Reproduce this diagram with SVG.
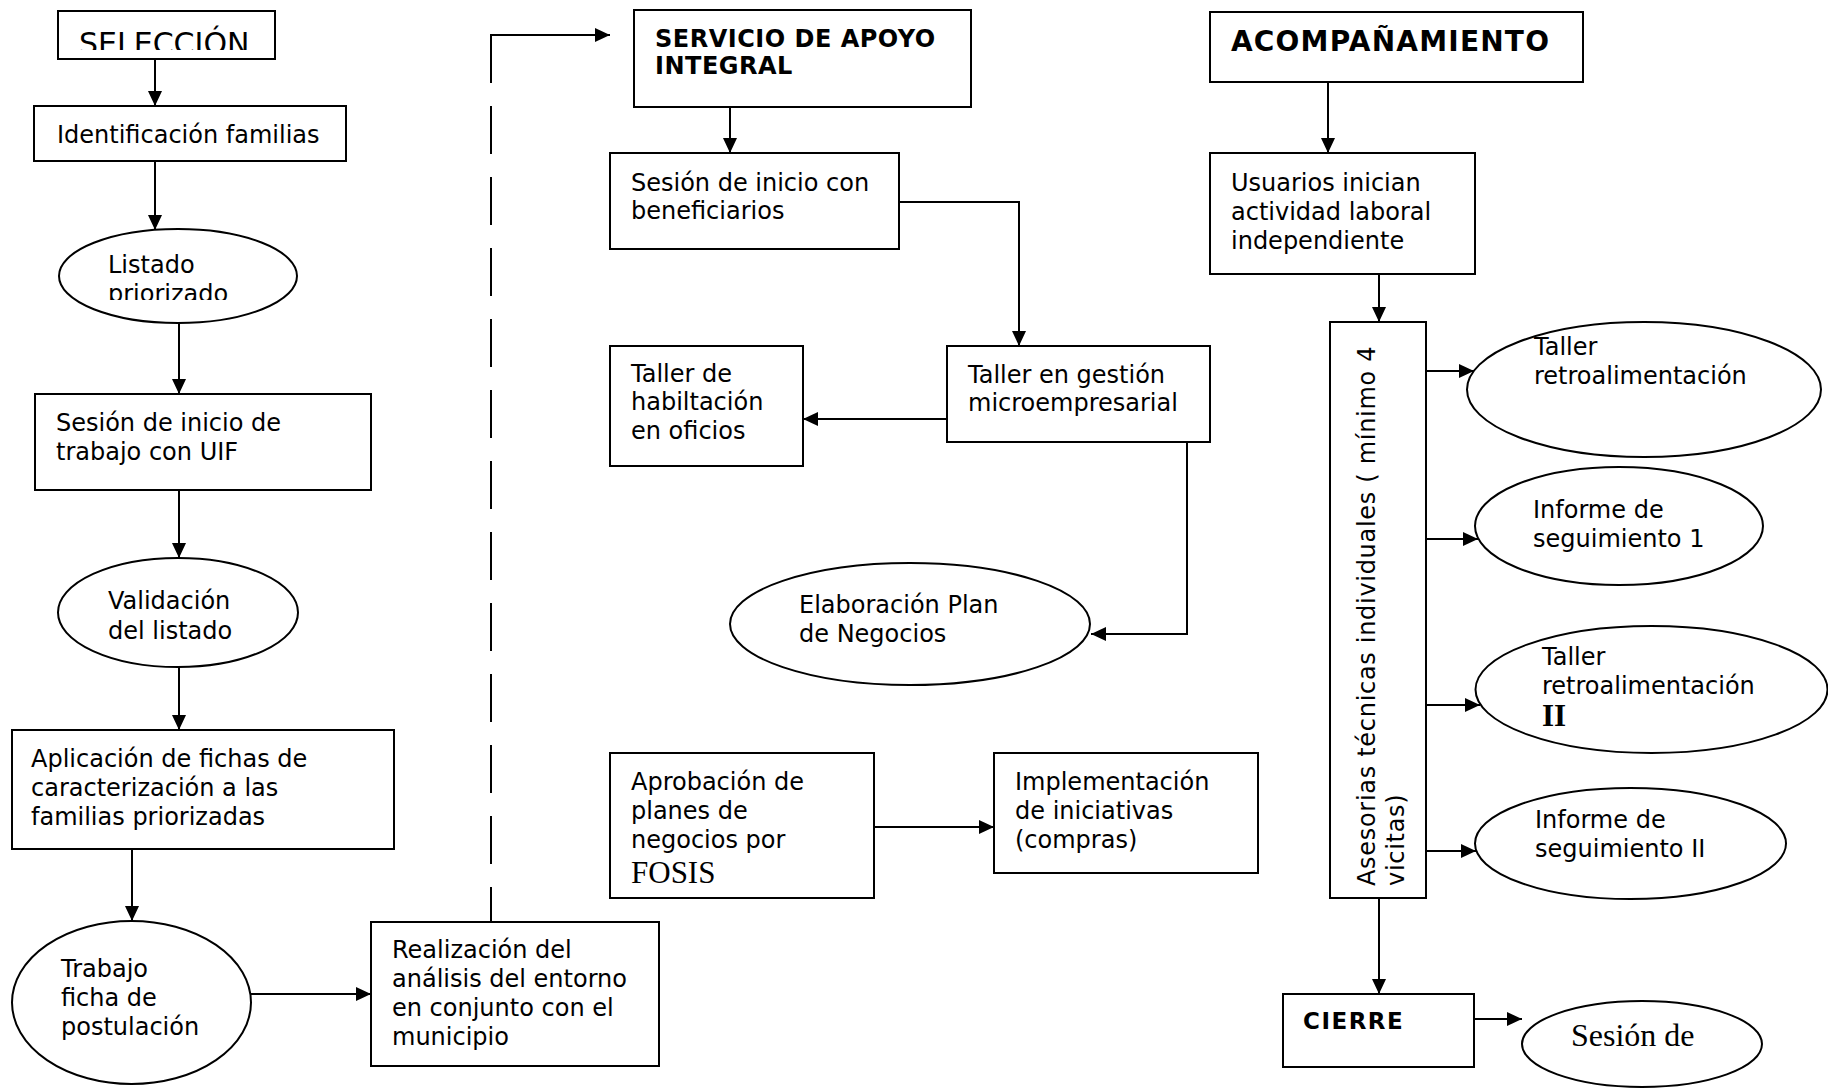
<svg xmlns="http://www.w3.org/2000/svg" width="1828" height="1088" viewBox="0 0 1828 1088">
<style>
.box{fill:#fff;stroke:#000;stroke-width:2}
.t{font-family:"DejaVu Sans",Verdana,sans-serif;font-size:24px;fill:#000}
.b{font-weight:bold}
.sf{font-family:"Liberation Serif","Times New Roman",serif;font-size:31px;fill:#000}
.c{fill:none;stroke:#000;stroke-width:2}
.a{marker-end:url(#arr)}
</style>
<defs>
<marker id="arr" markerUnits="userSpaceOnUse" markerWidth="15" markerHeight="14" refX="15" refY="7" orient="auto">
<path d="M0,0 L15,7 L0,14 z" fill="#000"/>
</marker>
<clipPath id="clipSel"><rect x="58" y="11" width="217" height="39"/></clipPath>
<clipPath id="clipList"><rect x="59" y="229" width="238" height="71"/></clipPath>
</defs>
<rect width="1828" height="1088" fill="#fff"/>

<g id="connectors">
<line class="c a" x1="155" y1="59" x2="155" y2="106"/>
<line class="c a" x1="155" y1="161" x2="155" y2="230"/>
<line class="c a" x1="179" y1="323" x2="179" y2="394"/>
<line class="c a" x1="179" y1="490" x2="179" y2="558"/>
<line class="c a" x1="179" y1="667" x2="179" y2="730"/>
<line class="c a" x1="132" y1="849" x2="132" y2="921"/>
<line class="c a" x1="251" y1="994" x2="371" y2="994"/>
<line class="c" x1="491" y1="35" x2="491" y2="922" stroke-dasharray="48 23"/>
<line class="c a" x1="490" y1="35" x2="610" y2="35"/>
<line class="c a" x1="730" y1="107" x2="730" y2="153"/>
<polyline class="c a" points="899,202 1019,202 1019,346"/>
<line class="c a" x1="947" y1="419" x2="803" y2="419"/>
<polyline class="c a" points="1187,442 1187,634 1091,634"/>
<line class="c a" x1="874" y1="827" x2="994" y2="827"/>
<line class="c a" x1="1328" y1="82" x2="1328" y2="153"/>
<line class="c a" x1="1379" y1="274" x2="1379" y2="322"/>
<line class="c a" x1="1426" y1="371" x2="1474" y2="371"/>
<line class="c a" x1="1426" y1="539" x2="1478" y2="539"/>
<line class="c a" x1="1426" y1="705" x2="1480" y2="705"/>
<line class="c a" x1="1426" y1="851" x2="1476" y2="851"/>
<line class="c a" x1="1379" y1="898" x2="1379" y2="994"/>
<line class="c a" x1="1474" y1="1019" x2="1522" y2="1019"/>
</g>

<g id="seleccion">
<rect class="box" x="58" y="11" width="217" height="48"/>
<text class="t" x="79" y="54" style="font-size:30px" clip-path="url(#clipSel)">SELECCIÓN</text>
</g>
<g id="identificacion">
<rect class="box" x="34" y="106" width="312" height="55"/>
<text class="t" x="57" y="143">Identificación familias</text>
</g>
<g id="listado">
<ellipse class="box" cx="178" cy="276" rx="119" ry="47"/>
<g clip-path="url(#clipList)">
<text class="t" x="108" y="273">Listado<tspan x="108" y="302">priorizado</tspan></text>
</g>
</g>
<g id="sesion-uif">
<rect class="box" x="35" y="394" width="336" height="96"/>
<text class="t" x="56" y="431">Sesión de inicio de<tspan x="56" y="460">trabajo con UIF</tspan></text>
</g>
<g id="validacion">
<ellipse class="box" cx="178" cy="612.5" rx="120" ry="54.5"/>
<text class="t" x="108" y="609">Validación<tspan x="108" y="639">del listado</tspan></text>
</g>
<g id="aplicacion">
<rect class="box" x="12" y="730" width="382" height="119"/>
<text class="t" x="31" y="767">Aplicación de fichas de<tspan x="31" y="796">caracterización a las</tspan><tspan x="31" y="825">familias priorizadas</tspan></text>
</g>
<g id="trabajo">
<ellipse class="box" cx="131.5" cy="1002.5" rx="119.5" ry="81.5"/>
<text class="t" x="61" y="977">Trabajo<tspan x="61" y="1006">ficha de</tspan><tspan x="61" y="1035">postulación</tspan></text>
</g>
<g id="realizacion">
<rect class="box" x="371" y="922" width="288" height="144"/>
<text class="t" x="392" y="958">Realización del<tspan x="392" y="987">análisis del entorno</tspan><tspan x="392" y="1016">en conjunto con el</tspan><tspan x="392" y="1045">municipio</tspan></text>
</g>

<g id="servicio">
<rect class="box" x="634" y="10" width="337" height="97"/>
<text class="t b" x="655" y="47" style="letter-spacing:0.5px">SERVICIO DE APOYO<tspan x="655" y="74">INTEGRAL</tspan></text>
</g>
<g id="sesion-beneficiarios">
<rect class="box" x="610" y="153" width="289" height="96"/>
<text class="t" x="631" y="191">Sesión de inicio con<tspan x="631" y="219">beneficiarios</tspan></text>
</g>
<g id="taller-gestion">
<rect class="box" x="947" y="346" width="263" height="96"/>
<text class="t" x="968" y="383">Taller en gestión<tspan x="968" y="411">microempresarial</tspan></text>
</g>
<g id="taller-habilitacion">
<rect class="box" x="610" y="346" width="193" height="120"/>
<text class="t" x="631" y="382">Taller de<tspan x="631" y="410">habiltación</tspan><tspan x="631" y="439">en oficios</tspan></text>
</g>
<g id="elaboracion">
<ellipse class="box" cx="910" cy="624" rx="180" ry="61"/>
<text class="t" x="799" y="613">Elaboración Plan<tspan x="799" y="642">de Negocios</tspan></text>
</g>
<g id="aprobacion">
<rect class="box" x="610" y="753" width="264" height="145"/>
<text class="t" x="631" y="790">Aprobación de<tspan x="631" y="819">planes de</tspan><tspan x="631" y="848">negocios por</tspan></text>
<text class="sf" x="631" y="883">FOSIS</text>
</g>
<g id="implementacion">
<rect class="box" x="994" y="753" width="264" height="120"/>
<text class="t" x="1015" y="790">Implementación<tspan x="1015" y="819">de iniciativas</tspan><tspan x="1015" y="848">(compras)</tspan></text>
</g>

<g id="acompanamiento">
<rect class="box" x="1210" y="12" width="373" height="70"/>
<text class="t b" x="1231" y="51" style="font-size:28px;letter-spacing:1.2px">ACOMPAÑAMIENTO</text>
</g>
<g id="usuarios">
<rect class="box" x="1210" y="153" width="265" height="121"/>
<text class="t" x="1231" y="191">Usuarios inician<tspan x="1231" y="220">actividad laboral</tspan><tspan x="1231" y="249">independiente</tspan></text>
</g>
<g id="asesorias">
<rect class="box" x="1330" y="322" width="96" height="576"/>
<text class="t" transform="translate(1375,886) rotate(-90)" x="0" y="0" style="letter-spacing:0.7px">Asesorias técnicas individuales ( mínimo 4<tspan x="0" y="29">vicitas)</tspan></text>
</g>
<g id="taller-retro-1">
<ellipse class="box" cx="1644" cy="389.5" rx="177" ry="67.5"/>
<text class="t" x="1534" y="355">Taller<tspan x="1534" y="384">retroalimentación</tspan></text>
</g>
<g id="informe-1">
<ellipse class="box" cx="1619" cy="526" rx="144" ry="59"/>
<text class="t" x="1533" y="518">Informe de<tspan x="1533" y="547">seguimiento 1</tspan></text>
</g>
<g id="taller-retro-2">
<ellipse class="box" cx="1651.5" cy="689.5" rx="176" ry="63.5"/>
<text class="t" x="1542" y="665">Taller<tspan x="1542" y="694">retroalimentación</tspan></text>
<text class="sf b" x="1542" y="726">II</text>
</g>
<g id="informe-2">
<ellipse class="box" cx="1630.5" cy="843.5" rx="155.5" ry="55.5"/>
<text class="t" x="1535" y="828">Informe de<tspan x="1535" y="857">seguimiento II</tspan></text>
</g>
<g id="cierre">
<rect class="box" x="1283" y="994" width="191" height="73"/>
<text class="t b" x="1303" y="1029" style="font-size:23px;letter-spacing:1.5px">CIERRE</text>
</g>
<g id="sesion-cierre">
<ellipse class="box" cx="1642" cy="1044" rx="120" ry="43"/>
<text class="sf" x="1571" y="1046" style="font-size:32px">Sesión de</text>
</g>
</svg>
